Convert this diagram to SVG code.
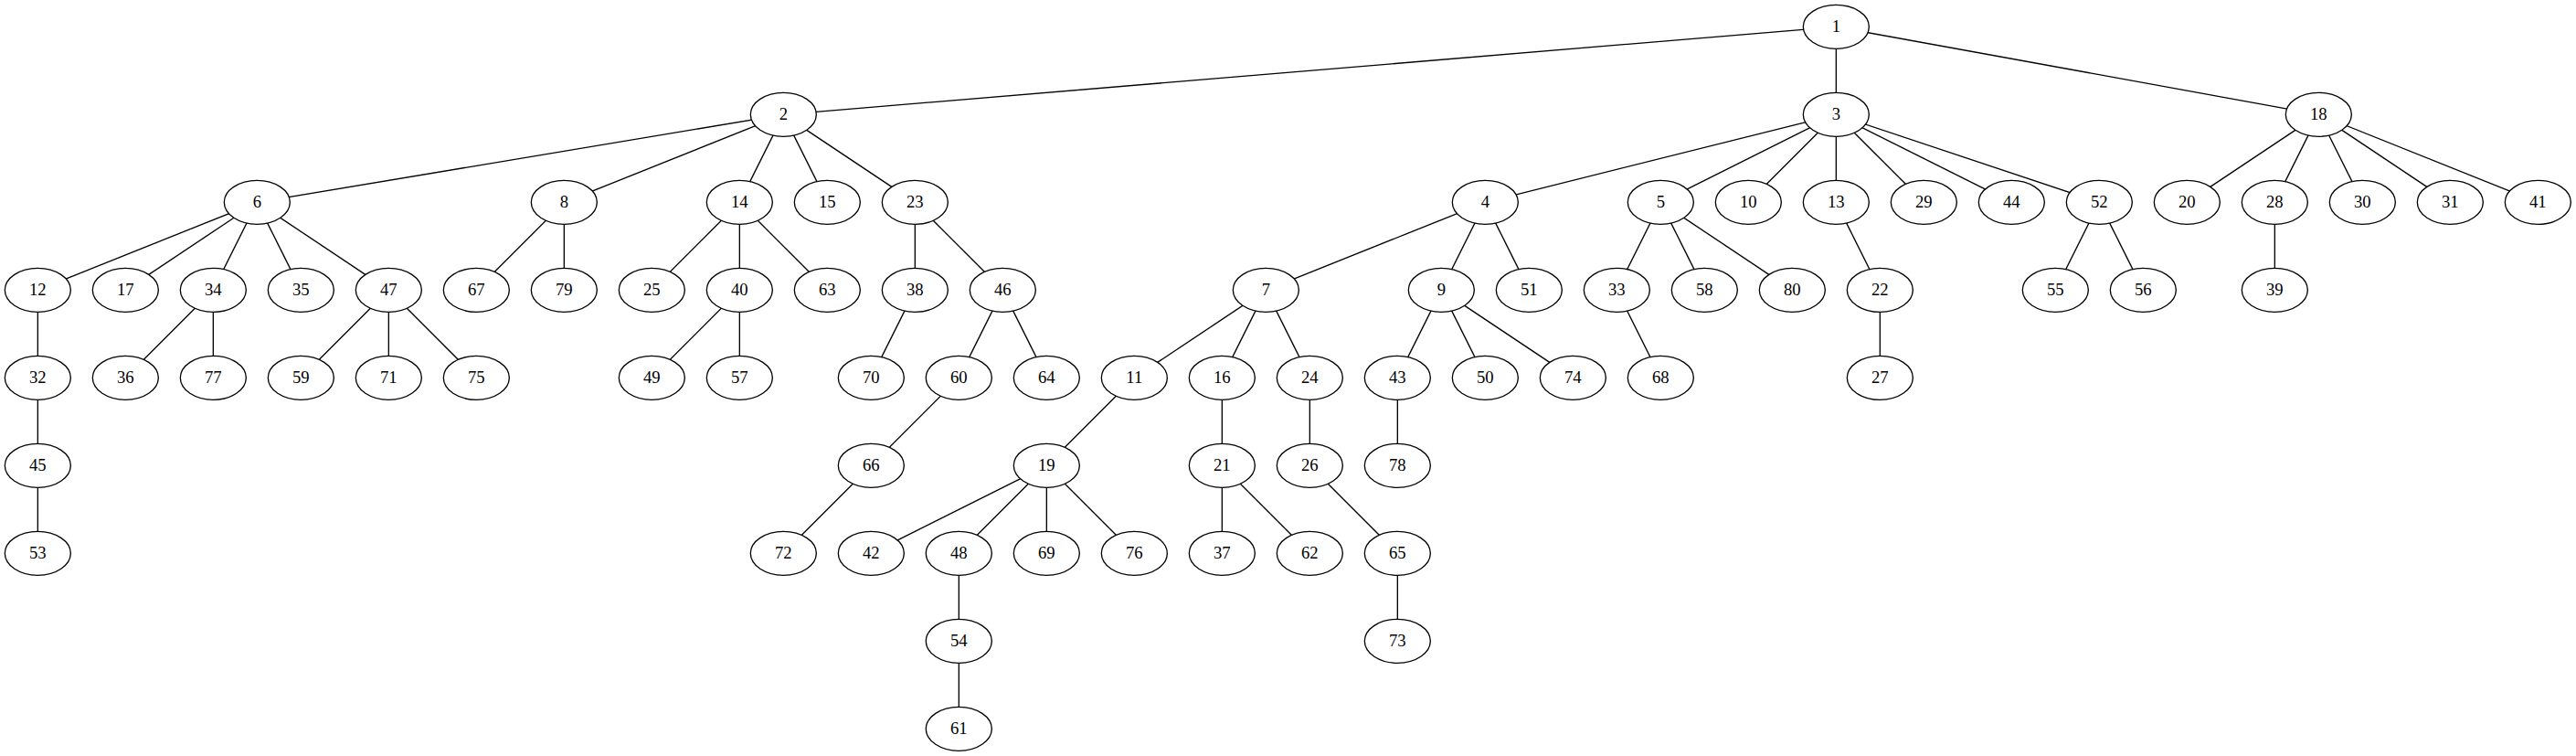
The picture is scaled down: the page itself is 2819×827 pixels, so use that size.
<svg xmlns="http://www.w3.org/2000/svg" width="2819" height="827" viewBox="0 0 2819 827">
<style>
.e line{stroke:#000;stroke-width:1.33;fill:none}
.n ellipse{fill:#fff;stroke:#000;stroke-width:1.33}
.n text{font-family:"Liberation Serif","Times New Roman",serif;font-size:18.67px;text-anchor:middle;fill:#000}
</style>
<rect width="2819" height="827" fill="#fff"/>
<g id="connectors" class="e">
<line x1="2009.33" y1="29.33" x2="857.33" y2="125.33"/>
<line x1="2009.33" y1="29.33" x2="2009.33" y2="125.33"/>
<line x1="2009.33" y1="29.33" x2="2537.33" y2="125.33"/>
<line x1="857.33" y1="125.33" x2="281.33" y2="221.33"/>
<line x1="857.33" y1="125.33" x2="617.33" y2="221.33"/>
<line x1="857.33" y1="125.33" x2="809.33" y2="221.33"/>
<line x1="857.33" y1="125.33" x2="905.33" y2="221.33"/>
<line x1="857.33" y1="125.33" x2="1001.33" y2="221.33"/>
<line x1="2009.33" y1="125.33" x2="1625.33" y2="221.33"/>
<line x1="2009.33" y1="125.33" x2="1817.33" y2="221.33"/>
<line x1="2009.33" y1="125.33" x2="1913.33" y2="221.33"/>
<line x1="2009.33" y1="125.33" x2="2009.33" y2="221.33"/>
<line x1="2009.33" y1="125.33" x2="2105.33" y2="221.33"/>
<line x1="2009.33" y1="125.33" x2="2201.33" y2="221.33"/>
<line x1="2009.33" y1="125.33" x2="2297.33" y2="221.33"/>
<line x1="2537.33" y1="125.33" x2="2393.33" y2="221.33"/>
<line x1="2537.33" y1="125.33" x2="2489.33" y2="221.33"/>
<line x1="2537.33" y1="125.33" x2="2585.33" y2="221.33"/>
<line x1="2537.33" y1="125.33" x2="2681.33" y2="221.33"/>
<line x1="2537.33" y1="125.33" x2="2777.33" y2="221.33"/>
<line x1="281.33" y1="221.33" x2="41.33" y2="317.33"/>
<line x1="281.33" y1="221.33" x2="137.33" y2="317.33"/>
<line x1="281.33" y1="221.33" x2="233.33" y2="317.33"/>
<line x1="281.33" y1="221.33" x2="329.33" y2="317.33"/>
<line x1="281.33" y1="221.33" x2="425.33" y2="317.33"/>
<line x1="617.33" y1="221.33" x2="521.33" y2="317.33"/>
<line x1="617.33" y1="221.33" x2="617.33" y2="317.33"/>
<line x1="809.33" y1="221.33" x2="713.33" y2="317.33"/>
<line x1="809.33" y1="221.33" x2="809.33" y2="317.33"/>
<line x1="809.33" y1="221.33" x2="905.33" y2="317.33"/>
<line x1="1001.33" y1="221.33" x2="1001.33" y2="317.33"/>
<line x1="1001.33" y1="221.33" x2="1097.33" y2="317.33"/>
<line x1="1625.33" y1="221.33" x2="1385.33" y2="317.33"/>
<line x1="1625.33" y1="221.33" x2="1577.33" y2="317.33"/>
<line x1="1625.33" y1="221.33" x2="1673.33" y2="317.33"/>
<line x1="1817.33" y1="221.33" x2="1769.33" y2="317.33"/>
<line x1="1817.33" y1="221.33" x2="1865.33" y2="317.33"/>
<line x1="1817.33" y1="221.33" x2="1961.33" y2="317.33"/>
<line x1="2009.33" y1="221.33" x2="2057.33" y2="317.33"/>
<line x1="2297.33" y1="221.33" x2="2249.33" y2="317.33"/>
<line x1="2297.33" y1="221.33" x2="2345.33" y2="317.33"/>
<line x1="2489.33" y1="221.33" x2="2489.33" y2="317.33"/>
<line x1="41.33" y1="317.33" x2="41.33" y2="413.33"/>
<line x1="233.33" y1="317.33" x2="137.33" y2="413.33"/>
<line x1="233.33" y1="317.33" x2="233.33" y2="413.33"/>
<line x1="425.33" y1="317.33" x2="329.33" y2="413.33"/>
<line x1="425.33" y1="317.33" x2="425.33" y2="413.33"/>
<line x1="425.33" y1="317.33" x2="521.33" y2="413.33"/>
<line x1="809.33" y1="317.33" x2="713.33" y2="413.33"/>
<line x1="809.33" y1="317.33" x2="809.33" y2="413.33"/>
<line x1="1001.33" y1="317.33" x2="953.33" y2="413.33"/>
<line x1="1097.33" y1="317.33" x2="1049.33" y2="413.33"/>
<line x1="1097.33" y1="317.33" x2="1145.33" y2="413.33"/>
<line x1="1385.33" y1="317.33" x2="1241.33" y2="413.33"/>
<line x1="1385.33" y1="317.33" x2="1337.33" y2="413.33"/>
<line x1="1385.33" y1="317.33" x2="1433.33" y2="413.33"/>
<line x1="1577.33" y1="317.33" x2="1529.33" y2="413.33"/>
<line x1="1577.33" y1="317.33" x2="1625.33" y2="413.33"/>
<line x1="1577.33" y1="317.33" x2="1721.33" y2="413.33"/>
<line x1="1769.33" y1="317.33" x2="1817.33" y2="413.33"/>
<line x1="2057.33" y1="317.33" x2="2057.33" y2="413.33"/>
<line x1="41.33" y1="413.33" x2="41.33" y2="509.33"/>
<line x1="1049.33" y1="413.33" x2="953.33" y2="509.33"/>
<line x1="1241.33" y1="413.33" x2="1145.33" y2="509.33"/>
<line x1="1337.33" y1="413.33" x2="1337.33" y2="509.33"/>
<line x1="1433.33" y1="413.33" x2="1433.33" y2="509.33"/>
<line x1="1529.33" y1="413.33" x2="1529.33" y2="509.33"/>
<line x1="41.33" y1="509.33" x2="41.33" y2="605.33"/>
<line x1="953.33" y1="509.33" x2="857.33" y2="605.33"/>
<line x1="1145.33" y1="509.33" x2="953.33" y2="605.33"/>
<line x1="1145.33" y1="509.33" x2="1049.33" y2="605.33"/>
<line x1="1145.33" y1="509.33" x2="1145.33" y2="605.33"/>
<line x1="1145.33" y1="509.33" x2="1241.33" y2="605.33"/>
<line x1="1337.33" y1="509.33" x2="1337.33" y2="605.33"/>
<line x1="1337.33" y1="509.33" x2="1433.33" y2="605.33"/>
<line x1="1433.33" y1="509.33" x2="1529.33" y2="605.33"/>
<line x1="1049.33" y1="605.33" x2="1049.33" y2="701.33"/>
<line x1="1529.33" y1="605.33" x2="1529.33" y2="701.33"/>
<line x1="1049.33" y1="701.33" x2="1049.33" y2="797.33"/>
</g>
<defs><ellipse id="ov" cx="0" cy="0" rx="36" ry="24"/></defs>
<g class="n">
<g id="n1" transform="translate(2009.33,29.33)"><ellipse rx="36" ry="24"/><text y="6">1</text></g>
<g id="n2" transform="translate(857.33,125.33)"><ellipse rx="36" ry="24"/><text y="6">2</text></g>
<g id="n3" transform="translate(2009.33,125.33)"><ellipse rx="36" ry="24"/><text y="6">3</text></g>
<g id="n18" transform="translate(2537.33,125.33)"><ellipse rx="36" ry="24"/><text y="6">18</text></g>
<g id="n6" transform="translate(281.33,221.33)"><ellipse rx="36" ry="24"/><text y="6">6</text></g>
<g id="n8" transform="translate(617.33,221.33)"><ellipse rx="36" ry="24"/><text y="6">8</text></g>
<g id="n14" transform="translate(809.33,221.33)"><ellipse rx="36" ry="24"/><text y="6">14</text></g>
<g id="n15" transform="translate(905.33,221.33)"><ellipse rx="36" ry="24"/><text y="6">15</text></g>
<g id="n23" transform="translate(1001.33,221.33)"><ellipse rx="36" ry="24"/><text y="6">23</text></g>
<g id="n4" transform="translate(1625.33,221.33)"><ellipse rx="36" ry="24"/><text y="6">4</text></g>
<g id="n5" transform="translate(1817.33,221.33)"><ellipse rx="36" ry="24"/><text y="6">5</text></g>
<g id="n10" transform="translate(1913.33,221.33)"><ellipse rx="36" ry="24"/><text y="6">10</text></g>
<g id="n13" transform="translate(2009.33,221.33)"><ellipse rx="36" ry="24"/><text y="6">13</text></g>
<g id="n29" transform="translate(2105.33,221.33)"><ellipse rx="36" ry="24"/><text y="6">29</text></g>
<g id="n44" transform="translate(2201.33,221.33)"><ellipse rx="36" ry="24"/><text y="6">44</text></g>
<g id="n52" transform="translate(2297.33,221.33)"><ellipse rx="36" ry="24"/><text y="6">52</text></g>
<g id="n20" transform="translate(2393.33,221.33)"><ellipse rx="36" ry="24"/><text y="6">20</text></g>
<g id="n28" transform="translate(2489.33,221.33)"><ellipse rx="36" ry="24"/><text y="6">28</text></g>
<g id="n30" transform="translate(2585.33,221.33)"><ellipse rx="36" ry="24"/><text y="6">30</text></g>
<g id="n31" transform="translate(2681.33,221.33)"><ellipse rx="36" ry="24"/><text y="6">31</text></g>
<g id="n41" transform="translate(2777.33,221.33)"><ellipse rx="36" ry="24"/><text y="6">41</text></g>
<g id="n12" transform="translate(41.33,317.33)"><ellipse rx="36" ry="24"/><text y="6">12</text></g>
<g id="n17" transform="translate(137.33,317.33)"><ellipse rx="36" ry="24"/><text y="6">17</text></g>
<g id="n34" transform="translate(233.33,317.33)"><ellipse rx="36" ry="24"/><text y="6">34</text></g>
<g id="n35" transform="translate(329.33,317.33)"><ellipse rx="36" ry="24"/><text y="6">35</text></g>
<g id="n47" transform="translate(425.33,317.33)"><ellipse rx="36" ry="24"/><text y="6">47</text></g>
<g id="n67" transform="translate(521.33,317.33)"><ellipse rx="36" ry="24"/><text y="6">67</text></g>
<g id="n79" transform="translate(617.33,317.33)"><ellipse rx="36" ry="24"/><text y="6">79</text></g>
<g id="n25" transform="translate(713.33,317.33)"><ellipse rx="36" ry="24"/><text y="6">25</text></g>
<g id="n40" transform="translate(809.33,317.33)"><ellipse rx="36" ry="24"/><text y="6">40</text></g>
<g id="n63" transform="translate(905.33,317.33)"><ellipse rx="36" ry="24"/><text y="6">63</text></g>
<g id="n38" transform="translate(1001.33,317.33)"><ellipse rx="36" ry="24"/><text y="6">38</text></g>
<g id="n46" transform="translate(1097.33,317.33)"><ellipse rx="36" ry="24"/><text y="6">46</text></g>
<g id="n7" transform="translate(1385.33,317.33)"><ellipse rx="36" ry="24"/><text y="6">7</text></g>
<g id="n9" transform="translate(1577.33,317.33)"><ellipse rx="36" ry="24"/><text y="6">9</text></g>
<g id="n51" transform="translate(1673.33,317.33)"><ellipse rx="36" ry="24"/><text y="6">51</text></g>
<g id="n33" transform="translate(1769.33,317.33)"><ellipse rx="36" ry="24"/><text y="6">33</text></g>
<g id="n58" transform="translate(1865.33,317.33)"><ellipse rx="36" ry="24"/><text y="6">58</text></g>
<g id="n80" transform="translate(1961.33,317.33)"><ellipse rx="36" ry="24"/><text y="6">80</text></g>
<g id="n22" transform="translate(2057.33,317.33)"><ellipse rx="36" ry="24"/><text y="6">22</text></g>
<g id="n55" transform="translate(2249.33,317.33)"><ellipse rx="36" ry="24"/><text y="6">55</text></g>
<g id="n56" transform="translate(2345.33,317.33)"><ellipse rx="36" ry="24"/><text y="6">56</text></g>
<g id="n39" transform="translate(2489.33,317.33)"><ellipse rx="36" ry="24"/><text y="6">39</text></g>
<g id="n32" transform="translate(41.33,413.33)"><ellipse rx="36" ry="24"/><text y="6">32</text></g>
<g id="n36" transform="translate(137.33,413.33)"><ellipse rx="36" ry="24"/><text y="6">36</text></g>
<g id="n77" transform="translate(233.33,413.33)"><ellipse rx="36" ry="24"/><text y="6">77</text></g>
<g id="n59" transform="translate(329.33,413.33)"><ellipse rx="36" ry="24"/><text y="6">59</text></g>
<g id="n71" transform="translate(425.33,413.33)"><ellipse rx="36" ry="24"/><text y="6">71</text></g>
<g id="n75" transform="translate(521.33,413.33)"><ellipse rx="36" ry="24"/><text y="6">75</text></g>
<g id="n49" transform="translate(713.33,413.33)"><ellipse rx="36" ry="24"/><text y="6">49</text></g>
<g id="n57" transform="translate(809.33,413.33)"><ellipse rx="36" ry="24"/><text y="6">57</text></g>
<g id="n70" transform="translate(953.33,413.33)"><ellipse rx="36" ry="24"/><text y="6">70</text></g>
<g id="n60" transform="translate(1049.33,413.33)"><ellipse rx="36" ry="24"/><text y="6">60</text></g>
<g id="n64" transform="translate(1145.33,413.33)"><ellipse rx="36" ry="24"/><text y="6">64</text></g>
<g id="n11" transform="translate(1241.33,413.33)"><ellipse rx="36" ry="24"/><text y="6">11</text></g>
<g id="n16" transform="translate(1337.33,413.33)"><ellipse rx="36" ry="24"/><text y="6">16</text></g>
<g id="n24" transform="translate(1433.33,413.33)"><ellipse rx="36" ry="24"/><text y="6">24</text></g>
<g id="n43" transform="translate(1529.33,413.33)"><ellipse rx="36" ry="24"/><text y="6">43</text></g>
<g id="n50" transform="translate(1625.33,413.33)"><ellipse rx="36" ry="24"/><text y="6">50</text></g>
<g id="n74" transform="translate(1721.33,413.33)"><ellipse rx="36" ry="24"/><text y="6">74</text></g>
<g id="n68" transform="translate(1817.33,413.33)"><ellipse rx="36" ry="24"/><text y="6">68</text></g>
<g id="n27" transform="translate(2057.33,413.33)"><ellipse rx="36" ry="24"/><text y="6">27</text></g>
<g id="n45" transform="translate(41.33,509.33)"><ellipse rx="36" ry="24"/><text y="6">45</text></g>
<g id="n66" transform="translate(953.33,509.33)"><ellipse rx="36" ry="24"/><text y="6">66</text></g>
<g id="n19" transform="translate(1145.33,509.33)"><ellipse rx="36" ry="24"/><text y="6">19</text></g>
<g id="n21" transform="translate(1337.33,509.33)"><ellipse rx="36" ry="24"/><text y="6">21</text></g>
<g id="n26" transform="translate(1433.33,509.33)"><ellipse rx="36" ry="24"/><text y="6">26</text></g>
<g id="n78" transform="translate(1529.33,509.33)"><ellipse rx="36" ry="24"/><text y="6">78</text></g>
<g id="n53" transform="translate(41.33,605.33)"><ellipse rx="36" ry="24"/><text y="6">53</text></g>
<g id="n72" transform="translate(857.33,605.33)"><ellipse rx="36" ry="24"/><text y="6">72</text></g>
<g id="n42" transform="translate(953.33,605.33)"><ellipse rx="36" ry="24"/><text y="6">42</text></g>
<g id="n48" transform="translate(1049.33,605.33)"><ellipse rx="36" ry="24"/><text y="6">48</text></g>
<g id="n69" transform="translate(1145.33,605.33)"><ellipse rx="36" ry="24"/><text y="6">69</text></g>
<g id="n76" transform="translate(1241.33,605.33)"><ellipse rx="36" ry="24"/><text y="6">76</text></g>
<g id="n37" transform="translate(1337.33,605.33)"><ellipse rx="36" ry="24"/><text y="6">37</text></g>
<g id="n62" transform="translate(1433.33,605.33)"><ellipse rx="36" ry="24"/><text y="6">62</text></g>
<g id="n65" transform="translate(1529.33,605.33)"><ellipse rx="36" ry="24"/><text y="6">65</text></g>
<g id="n54" transform="translate(1049.33,701.33)"><ellipse rx="36" ry="24"/><text y="6">54</text></g>
<g id="n73" transform="translate(1529.33,701.33)"><ellipse rx="36" ry="24"/><text y="6">73</text></g>
<g id="n61" transform="translate(1049.33,797.33)"><ellipse rx="36" ry="24"/><text y="6">61</text></g>
</g>
</svg>
